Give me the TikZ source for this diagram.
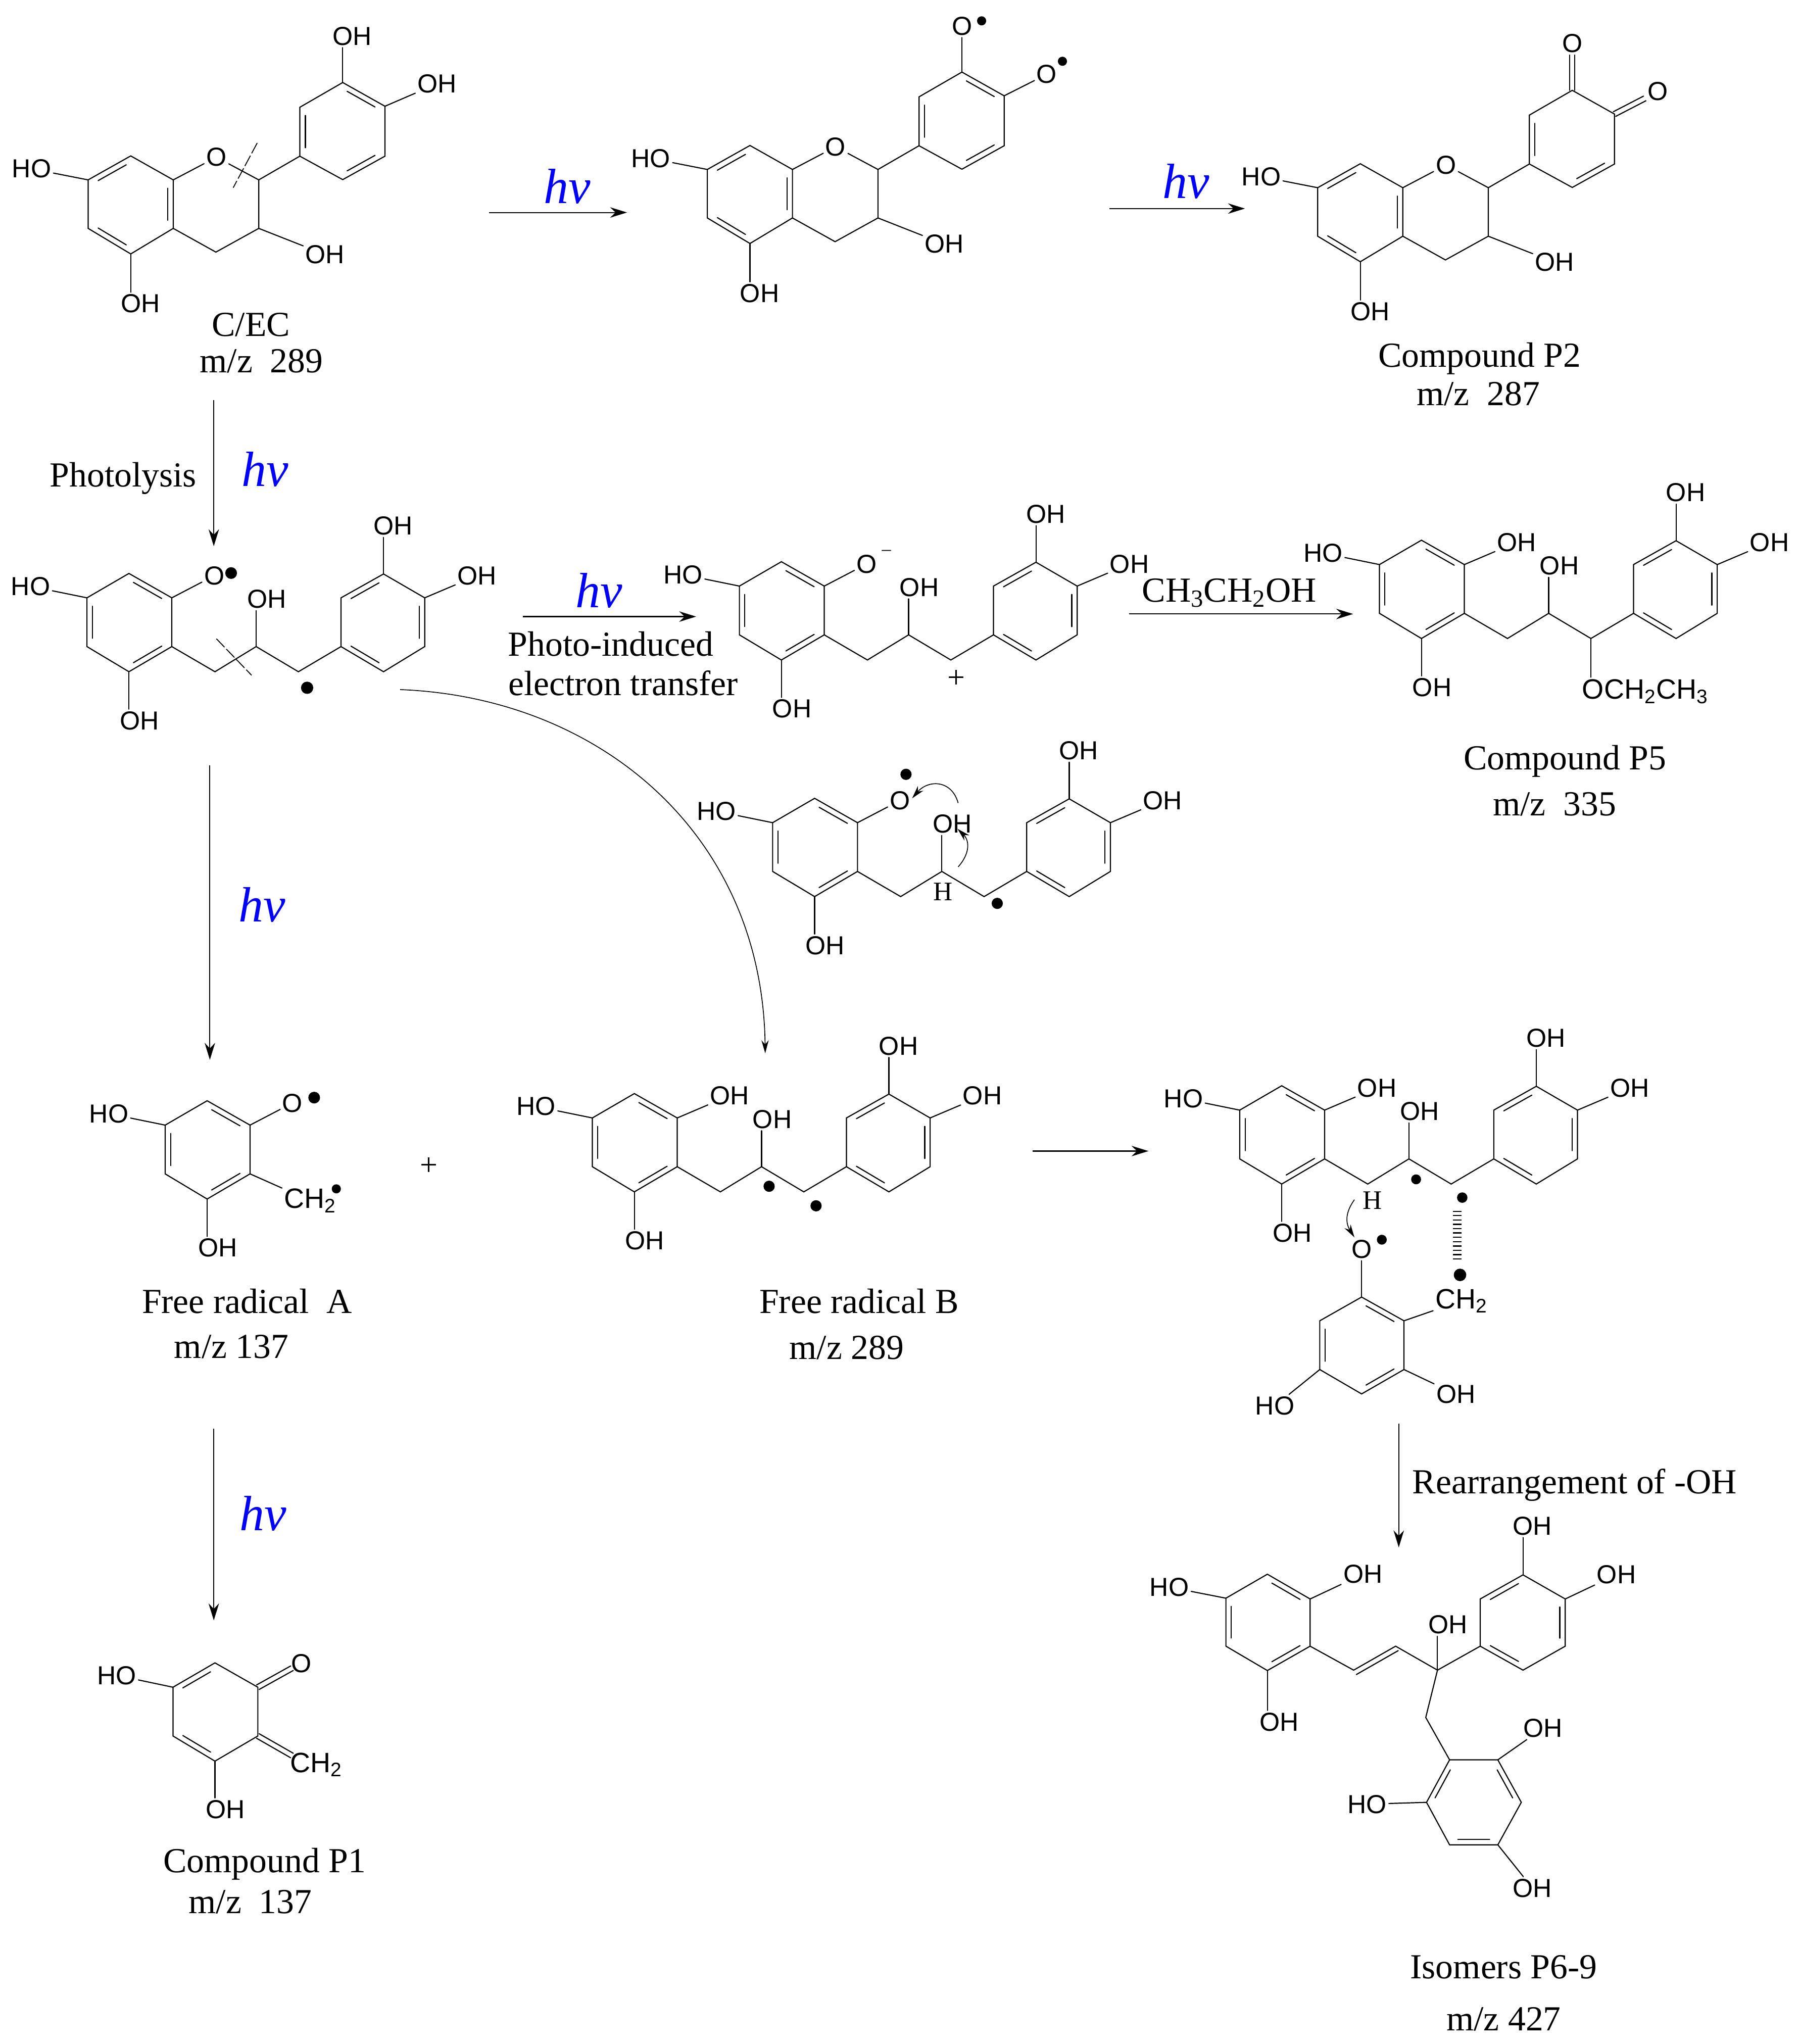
\documentclass[tikz,border=0pt]{standalone}
\usepackage{fontspec}
\setmainfont{Liberation Serif}
\setsansfont{Liberation Sans}
\usetikzlibrary{calc, arrows.meta}
\definecolor{hvBlue}{rgb}{0,0,1}

\tikzset{
    bond/.style={line width=0.85pt, line cap=round, line join=miter},
    rxn/.style={line width=0.8pt, -{Stealth[length=13pt, width=8pt]}},
    thinrxn/.style={line width=0.65pt, -{Stealth[length=10pt, width=5.5pt]}},
    cutline/.style={line width=0.7pt, dash pattern=on 9pt off 2pt on 9pt off 2pt},
    atom/.style={inner sep=1.5pt, font=\sffamily\fontsize{20}{20}\selectfont},
    chatom/.style={inner sep=1.5pt, font=\sffamily\fontsize{21.5}{20}\selectfont},
    hatom/.style={inner sep=1pt, font=\fontsize{20.5}{20}\selectfont},
    lab/.style={inner sep=0pt, font=\fontsize{27}{30}\selectfont},
    hvlab/.style={inner sep=0pt, text=hvBlue, font=\itshape\fontsize{38}{38}\selectfont}
}

% hexagon: name, then corners going clockwise
\newcommand{\hexa}[7]{
    \coordinate (#11) at (#2);
    \coordinate (#12) at (#3);
    \coordinate (#13) at (#4);
    \coordinate (#14) at (#5);
    \coordinate (#15) at (#6);
    \coordinate (#16) at (#7);
    \coordinate (#1c) at ($(#11)!.5!(#14)$);
    \draw[bond] (#11) -- (#12) -- (#13) -- (#14) -- (#15) -- (#16) -- cycle;
}
% inner line of a double bond in a ring
\newcommand{\innerb}[3]{
    \draw[bond] ($(#1#2)!.12!(#1#3)!.13!(#1c)$) -- ($(#1#3)!.12!(#1#2)!.13!(#1c)$);
}
% double bond outside a ring
\newcommand{\dblb}[2]{
    \draw[bond] ($(#1)!2pt!90:(#2)$) -- ($(#2)!2pt!-90:(#1)$);
    \draw[bond] ($(#1)!2pt!-90:(#2)$) -- ($(#2)!2pt!90:(#1)$);
}

% fused rings of the top row
\newcommand{\flavan}[1]{
    \hexa{#1a}{100.3,119.6}{132.9,138}{132.9,175.2}{100.3,194.8}{67.6,175.2}{67.6,138}
    \hexa{#1b}{262.9,63.3}{295.3,81.5}{295.3,119.8}{262.9,137.8}{230,119.8}{230,82.3}
    \innerb{#1a}{1}{6} \innerb{#1a}{2}{3} \innerb{#1a}{4}{5}
    \coordinate (#1c2) at (198.5,138);
    \coordinate (#1c3) at (198.5,175.2);
    \coordinate (#1c4) at (165.6,193.4);
    \node[atom] (#1o) at (166,120.6) {O};
    \node[atom] (#1ho) at (24.3,129.5) {HO};
    \node[atom] (#1ohb) at (107.7,233) {OH};
    \node[atom] (#1ohc) at (249.3,195.2) {OH};
    \draw[bond] (#1a2) -- (#1o) -- (#1c2) -- (#1c3) -- (#1c4) -- (#1a3);
    \draw[bond] (#1c2) -- (#1b5);
    \draw[bond] (#1c3) -- (#1ohc);
    \draw[bond] (#1a6) -- (#1ho);
    \draw[bond] (#1a4) -- (#1a4 |- #1ohb.north);
}

% lower-left ring with HO and OH
\newcommand{\openringa}[1]{
    \hexa{#1a}{98.9,439.9}{131.8,458.6}{131.8,496}{98.9,515.3}{66.7,496}{66.7,458.6}
    \innerb{#1a}{1}{2} \innerb{#1a}{3}{4} \innerb{#1a}{5}{6}
    \node[atom] (#1ho) at (23.5,449.8) {HO};
    \node[atom] (#1ohb) at (107,552.8) {OH};
    \draw[bond] (#1a6) -- (#1ho);
    \draw[bond] (#1a4) -- (#1a4 |- #1ohb.north);
}
% opened molecule, without the ortho group
\newcommand{\openmol}[1]{
    \openringa{#1}
    \hexa{#1b}{294.2,440.3}{325.8,458.6}{325.8,496}{294.2,515.3}{261.6,496}{261.6,458.6}
    \innerb{#1b}{1}{6} \innerb{#1b}{2}{3} \innerb{#1b}{4}{5}
    \coordinate (#1c1) at (164.9,515.3);
    \coordinate (#1c2) at (196.5,496);
    \coordinate (#1c3) at (228.9,515.3);
    \draw[bond] (#1a3) -- (#1c1) -- (#1c2) -- (#1c3) -- (#1b5);
    \node[atom] (#1ohm) at (204.7,459.6) {OH};
    \node[atom] (#1oht) at (301.6,403.4) {OH};
    \node[atom] (#1ohr) at (365.9,441.6) {OH};
    \draw[bond] (#1c2) -- (#1c2 |- #1ohm.south);
    \draw[bond] (#1b1) -- (#1b1 |- #1oht.south);
    \draw[bond] (#1b2) -- (#1ohr);
}

\begin{document}
\begin{tikzpicture}[x=1pt, y=-1pt]
    \useasboundingbox (0,0) rectangle (1380,1568);

    % C/EC
    \flavan{ca}
    \innerb{cab}{6}{5} \innerb{cab}{1}{2} \innerb{cab}{3}{4}
    \node[atom] (caoht) at (270,27.7) {OH};
    \node[atom] (caohr) at (335.3,64.3) {OH};
    \draw[bond] (cab1) -- (cab1 |- caoht.south);
    \draw[bond] (cab2) -- (caohr);
    \coordinate (cut1a) at (197.3,109.7);
    \coordinate (cut1b) at (178.9,144);
    \draw[cutline] (cut1a) -- (cut1b);
    \node[lab] (caname) at (192.5,249) {C/EC};
    \node[lab] (camz) at (200.5,277) {m/z~~289};

    % two radicals on the B ring
    \begin{scope}[shift={(475,-8)}]
        \flavan{rb}
        \innerb{rbb}{6}{5} \innerb{rbb}{1}{2} \innerb{rbb}{3}{4}
        \node[atom] (rbot) at (263,28) {O};
        \node[atom] (rbor) at (328,65) {O};
        \draw[bond] (rbb1) -- (rbb1 |- rbot.south);
        \draw[bond] (rbb2) -- (rbor);
        \fill (278,24) circle (3.5pt);
        \fill (340,55) circle (3.5pt);
    \end{scope}

    % P2
    \begin{scope}[shift={(943.2,6)}]
        \flavan{pb}
        \innerb{pbb}{6}{5} \innerb{pbb}{3}{4}
        \node[atom] (pbot) at (263,27.4) {O};
        \node[atom] (pbor) at (328.5,64) {O};
        \dblb{pbb1}{pbb1 |- pbot.south}
        \coordinate (pbe) at (318.5,69.5);
        \dblb{pbb2}{pbe}
    \end{scope}
    \node[lab] (p2name) at (1135,275) {Compound P2};
    \node[lab] (p2mz) at (1134,302) {m/z~~287};

    % opened ring, two radicals
    \openmol{ob}
    \node[atom] (oboo) at (164.4,441.6) {O};
    \draw[bond] (oba2) -- (oboo);
    \fill (177.3,439.6) circle (4.5pt);
    \fill (235.6,527.6) circle (4.7pt);
    \coordinate (cut2a) at (166,490);
    \coordinate (cut2b) at (193,518);
    \draw[cutline] (cut2a) -- (cut2b);

    % ion pair
    \begin{scope}[shift={(500.5,-9)}]
        \openmol{ip}
        \node[atom] (ipoo) at (164.4,441.6) {O};
        \draw[bond] (ipa2) -- (ipoo);
    \end{scope}
    \node[inner sep=0pt, font=\fontsize{14}{14}\selectfont] (ipminus) at (680,424) {--};
    \node[inner sep=0pt, font=\fontsize{24}{24}\selectfont] (ipplus) at (733.6,521) {+};

    % P5
    \begin{scope}[shift={(991.5,-25.5)}]
        \openmol{pf}
        \node[atom] (pfoh) at (172,441.5) {OH};
        \draw[bond] (pfa2) -- (pfoh);
        \node[chatom] (pfet) at (270.5,556) {OCH\textsubscript{2}CH\textsubscript{3}};
        \draw[bond] (pfc3) -- (pfc3 |- pfet.north);
    \end{scope}
    \node[lab] (p5name) at (1200.5,584) {Compound P5};
    \node[lab] (p5mz) at (1192.5,617) {m/z~~335};

    % H shift
    \begin{scope}[shift={(526,172.5)}]
        \openmol{hs}
        \node[atom] (hsoo) at (164.4,441.6) {O};
        \draw[bond] (hsa2) -- (hsoo);
    \end{scope}
    \fill (695,594) circle (4.3pt);
    \fill (765,693) circle (4.3pt);
    \node[hatom] (hsh) at (723.5,684) {H};
    \coordinate (hsa) at (735,616);
    \coordinate (hsb) at (699.7,612.4);
    \draw[thinrxn] (hsa) .. controls (730,598) and (712,598) .. (hsb);
    \coordinate (hsc) at (735,665);
    \coordinate (hsd) at (734.5,635.8);
    \draw[thinrxn] (hsc) .. controls (744,655) and (744,645) .. (hsd);

    % Free radical A
    \begin{scope}[shift={(60,404.5)}]
        \openringa{fa}
        \node[atom] (faoo) at (164.4,441.6) {O};
        \node[chatom] (fach) at (178,516.5) {CH\textsubscript{2}};
        \draw[bond] (faa2) -- (faoo);
        \draw[bond] (faa3) -- (fach);
    \end{scope}
    \fill (241,842) circle (4.5pt);
    \fill (258,912) circle (3.5pt);
    \node[lab] (faname) at (189.5,998) {Free radical~~A};
    \node[lab] (famz) at (177.5,1033) {m/z 137};
    \node[inner sep=0pt, font=\fontsize{24}{24}\selectfont] (faplus) at (329,895) {+};

    % Free radical B
    \begin{scope}[shift={(387.7,399)}]
        \openmol{fb}
        \node[atom] (fboh) at (172,441.5) {OH};
        \draw[bond] (fba2) -- (fboh);
    \end{scope}
    \fill (590,910) circle (4.3pt);
    \fill (626,925) circle (4.3pt);
    \node[lab] (fbname) at (659,998) {Free radical B};
    \node[lab] (fbmz) at (649.5,1034) {m/z 289};

    % pair before coupling
    \begin{scope}[shift={(884.3,393)}]
        \openmol{cp}
        \node[atom] (cpoh) at (172,441.5) {OH};
        \draw[bond] (cpa2) -- (cpoh);
    \end{scope}
    \hexa{cl}{1044.5,995}{1077,1013.2}{1077,1050.6}{1044.5,1069.3}{1012.4,1050.6}{1012.4,1013.2}
    \innerb{cl}{1}{2} \innerb{cl}{3}{4} \innerb{cl}{5}{6}
    \node[atom] (cloo) at (1044.5,958.3) {O};
    \node[chatom] (clch) at (1121,998) {CH\textsubscript{2}};
    \node[atom] (cloh) at (1116.8,1069.5) {OH};
    \node[atom] (clho) at (978,1078.4) {HO};
    \draw[bond] (cl1) -- (cl1 |- cloo.south);
    \draw[bond] (cl2) -- (clch);
    \draw[bond] (cl3) -- (cloh);
    \draw[bond] (cl5) -- (clho);
    \node[hatom] (clh) at (1052.6,921) {H};
    \coordinate (cla) at (1039,920.3);
    \coordinate (clb) at (1039,949.2);
    \draw[thinrxn] (cla) .. controls (1032,930) and (1032,938) .. (clb);
    \fill (1060,951) circle (3.8pt);
    \fill (1086.3,904.7) circle (3.8pt);
    \fill (1121.7,918.7) circle (4pt);
    \fill (1120,978) circle (4.8pt);
    \foreach \i in {0,...,11}
        \draw[line width=0.9pt] (1114.6,{929.2+3.33*\i}) -- (1121,{929.2+3.33*\i});

    % P1
    \begin{scope}[shift={(66,835.7)}]
        \hexa{pa}{98.9,439.9}{131.8,458.6}{131.8,496}{98.9,515.3}{66.7,496}{66.7,458.6}
        \innerb{pa}{1}{6} \innerb{pa}{4}{5}
        \node[atom] (paho) at (23.5,449.5) {HO};
        \node[atom] (paohb) at (107,552.3) {OH};
        \node[atom] (paoo) at (165,440.3) {O};
        \node[chatom] (pach) at (176.5,518) {CH\textsubscript{2}};
        \coordinate (pae) at (158,444);
        \coordinate (paf) at (158,511);
        \draw[bond] (pa6) -- (paho);
        \draw[bond] (pa4) -- (pa4 |- paohb.north);
        \dblb{pa2}{pae}
        \dblb{pa3}{paf}
    \end{scope}
    \node[lab] (p1name) at (203,1430) {Compound P1};
    \node[lab] (p1mz) at (192,1459) {m/z~~137};

    % P6-9
    \hexa{ia}{972.2,1207.6}{1005,1226.6}{1005,1262.8}{972.2,1281.5}{940.4,1262.8}{940.4,1226}
    \hexa{ib}{1168.3,1208.1}{1200.7,1226.6}{1200.7,1262.8}{1168.3,1281.2}{1135.5,1262.8}{1135.5,1226.6}
    \hexa{ic}{1149,1350}{1167,1382.6}{1149,1415.2}{1112,1415.2}{1094.3,1382.6}{1112,1350}
    \innerb{ia}{1}{2} \innerb{ia}{3}{4} \innerb{ia}{5}{6}
    \innerb{ib}{1}{6} \innerb{ib}{2}{3} \innerb{ib}{4}{5}
    \innerb{ic}{1}{2} \innerb{ic}{3}{4} \innerb{ic}{5}{6}
    \coordinate (ich1) at (1038.4,1281.2);
    \coordinate (ich2) at (1070.6,1262.8);
    \coordinate (ich3) at (1102.7,1281.2);
    \coordinate (ich4) at (1093.7,1317.5);
    \draw[bond] (ia3) -- (ich1) -- (ich2) -- (ich3) -- (ib5);
    \draw[bond] ($(ich1)+(2,3.4)$) -- ($(ich2)+(2,3.4)$);
    \draw[bond] (ich3) -- (ich4) -- (ic6);
    \node[atom] (iaho) at (897,1217.5) {HO};
    \node[atom] (iaoh) at (1045.5,1207.6) {OH};
    \node[atom] (iaohb) at (981.2,1320.9) {OH};
    \node[atom] (ioh) at (1110.7,1246.4) {OH};
    \node[atom] (iboht) at (1175.6,1170.7) {OH};
    \node[atom] (ibohr) at (1240,1208) {OH};
    \node[atom] (icoh) at (1183.7,1325.7) {OH};
    \node[atom] (icho) at (1048.7,1384) {HO};
    \node[atom] (icohb) at (1175.6,1448.4) {OH};
    \draw[bond] (ia6) -- (iaho);
    \draw[bond] (ia2) -- (iaoh);
    \draw[bond] (ia4) -- (ia4 |- iaohb.north);
    \draw[bond] (ich3) -- (ich3 |- ioh.south);
    \draw[bond] (ib1) -- (ib1 |- iboht.south);
    \draw[bond] (ib2) -- (ibohr);
    \draw[bond] (ic1) -- (icoh);
    \draw[bond] (ic5) -- (icho);
    \draw[bond] (ic3) -- (icohb);
    \node[lab] (isname) at (1153.5,1509) {Isomers P6-9};
    \node[lab] (ismz) at (1153.5,1549) {m/z 427};

    % Arrows
    \coordinate (r1s) at (375,163);
    \coordinate (r1e) at (481,163);
    \draw[rxn] (r1s) -- (r1e);
    \node[hvlab] (hva) at (435,143) {hv};
    \coordinate (r2s) at (851,160);
    \coordinate (r2e) at (955,160);
    \draw[rxn] (r2s) -- (r2e);
    \node[hvlab] (hvb) at (910,139) {hv};
    \coordinate (r3s) at (164,307);
    \coordinate (r3e) at (164,419);
    \draw[rxn] (r3s) -- (r3e);
    \node[lab] (photo) at (94.5,367) {Photolysis};
    \node[hvlab] (hvc) at (203.5,360) {hv};
    \coordinate (r4s) at (401,473);
    \coordinate (r4e) at (534,473);
    \draw[rxn] (r4s) -- (r4e);
    \node[hvlab] (hvd) at (459.5,453) {hv};
    \node[lab] (pet1) at (468.5,494) {Photo-induced};
    \node[lab] (pet2) at (478,524) {electron transfer};
    \coordinate (r5s) at (866,471);
    \coordinate (r5e) at (1038,471);
    \draw[rxn] (r5s) -- (r5e);
    \node[lab] (etoh) at (943,455) {CH\textsubscript{3}CH\textsubscript{2}OH};
    \coordinate (r6s) at (161,587);
    \coordinate (r6e) at (161,813);
    \draw[rxn] (r6s) -- (r6e);
    \node[hvlab] (hve) at (201,694) {hv};
    \coordinate (r7s) at (307,529);
    \coordinate (r7e) at (587,808);
    \draw[thinrxn] (r7s) .. controls (460,535) and (585,640) .. (r7e);
    \coordinate (r8s) at (792,883);
    \coordinate (r8e) at (881,883);
    \draw[rxn] (r8s) -- (r8e);
    \coordinate (r9s) at (1073,1092);
    \coordinate (r9e) at (1073,1187);
    \draw[rxn] (r9s) -- (r9e);
    \node[lab] (rearr) at (1208,1139) {Rearrangement of -OH};
    \coordinate (r10s) at (164,1096);
    \coordinate (r10e) at (164,1243);
    \draw[rxn] (r10s) -- (r10e);
    \node[hvlab] (hvf) at (202,1161) {hv};
\end{tikzpicture}
\end{document}
